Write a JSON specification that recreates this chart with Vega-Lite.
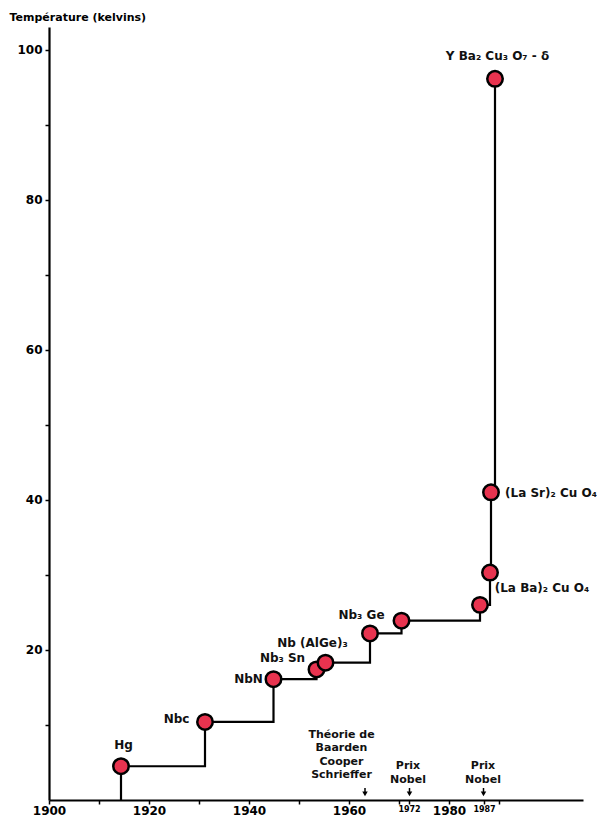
{
  "$schema": "https://vega.github.io/schema/vega-lite/v6.json",
  "width": 534,
  "height": 773,
  "autosize": {"type": "none"},
  "padding": {"left": 49, "top": 27, "right": 14, "bottom": 25},
  "background": "white",
  "config": {"view": {"stroke": null}, "font": "DejaVu Sans"},
  "datasets": {
    "records": [
      {"order": 0, "kind": "start", "year": 1914.4, "temp": 0},
      {"order": 1, "kind": "record", "year": 1914.4, "temp": 4.5},
      {"order": 2, "kind": "record", "year": 1931.2, "temp": 10.4},
      {"order": 3, "kind": "record", "year": 1944.9, "temp": 16.1},
      {"order": 4, "kind": "record", "year": 1953.5, "temp": 17.4},
      {"order": 5, "kind": "record", "year": 1955.3, "temp": 18.3},
      {"order": 6, "kind": "record", "year": 1964.2, "temp": 22.2},
      {"order": 7, "kind": "record", "year": 1970.5, "temp": 23.9},
      {"order": 8, "kind": "record", "year": 1986.2, "temp": 26.0},
      {"order": 9, "kind": "record", "year": 1988.2, "temp": 30.3},
      {"order": 10, "kind": "record", "year": 1988.4, "temp": 41.0},
      {"order": 11, "kind": "record", "year": 1989.2, "temp": 96.1}
    ],
    "labels": [
      {"text": "Hg", "year": 1914.9, "temp": 7.3},
      {"text": "Nbc", "year": 1925.5, "temp": 10.8},
      {"text": "NbN", "year": 1939.9, "temp": 16.1},
      {"text": "Nb₃ Sn", "year": 1946.7, "temp": 18.9},
      {"text": "Nb (AlGe)₃", "year": 1952.7, "temp": 20.9},
      {"text": "Nb₃ Ge", "year": 1962.5, "temp": 24.6},
      {"text": "Y Ba₂ Cu₃ O₇ - δ", "year": 1989.7, "temp": 99.2},
      {"text": "(La Sr)₂ Cu O₄", "year": 2000.4, "temp": 40.9},
      {"text": "(La Ba)₂ Cu O₄", "year": 1998.6, "temp": 28.2}
    ],
    "notes": [
      {"text": "Théorie de\nBaarden\nCooper\nSchrieffer", "year": 1958.5, "temp": 9.5},
      {"text": "Prix\nNobel", "year": 1971.8, "temp": 5.3},
      {"text": "Prix\nNobel", "year": 1986.8, "temp": 5.3}
    ],
    "arrows": [
      {"year": 1963.2, "top": 1.6, "tip": 0.8},
      {"year": 1972.1, "top": 1.6, "tip": 0.8},
      {"year": 1986.9, "top": 1.6, "tip": 0.8}
    ]
  },
  "layer": [
    {
      "data": {"name": "records"},
      "mark": {"type": "line", "interpolate": "step-after", "color": "black", "strokeWidth": 2.2},
      "encoding": {
        "x": {
          "field": "year", "type": "quantitative",
          "scale": {"domain": [1900, 2006.8], "nice": false, "zero": false},
          "axis": {
            "title": null,
            "values": [1900, 1910, 1920, 1930, 1940, 1950, 1960, 1970, 1972, 1980, 1987, 1990],
            "format": "d",
            "labelExpr": "datum.value % 20 == 0 || datum.value == 1972 || datum.value == 1987 ? datum.label : ''",
            "labelFontSize": {"condition": {"test": "datum.value == 1972 || datum.value == 1987", "value": 8}, "value": 12},
            "labelFontWeight": "bold",
            "labelColor": "black",
            "labelFont": "DejaVu Sans",
            "labelPadding": 1,
            "labelFlush": false,
            "labelOverlap": false,
            "domainColor": "black",
            "domainWidth": 2.2,
            "tickColor": "black",
            "tickWidth": 1.5,
            "tickSize": 4,
            "grid": false
          }
        },
        "y": {
          "field": "temp", "type": "quantitative",
          "scale": {"domain": [0, 103], "nice": false, "zero": true},
          "axis": {
            "title": "Température (kelvins)",
            "titleAngle": 0,
            "titleAlign": "left",
            "titleBaseline": "middle",
            "titleX": -40,
            "titleY": -10,
            "titleFont": "DejaVu Sans",
            "titleFontSize": 11,
            "titleFontWeight": "bold",
            "titleColor": "black",
            "values": [10, 20, 30, 40, 50, 60, 70, 80, 90, 100],
            "labelExpr": "datum.value % 20 == 0 ? datum.label : ''",
            "labelFontSize": 12,
            "labelFontWeight": "bold",
            "labelColor": "black",
            "labelPadding": 3,
            "domainColor": "black",
            "domainWidth": 2.2,
            "tickColor": "black",
            "tickWidth": 1.5,
            "tickSize": 4,
            "grid": false
          }
        },
        "order": {"field": "order"}
      }
    },
    {
      "data": {"name": "records"},
      "transform": [{"filter": "datum.kind == 'record'"}],
      "mark": {"type": "point", "shape": "circle", "filled": true, "fill": "#e8334f", "stroke": "black", "strokeWidth": 2.5, "size": 240, "opacity": 1},
      "encoding": {
        "x": {"field": "year", "type": "quantitative"},
        "y": {"field": "temp", "type": "quantitative"}
      }
    },
    {
      "data": {"name": "labels"},
      "mark": {"type": "text", "align": "center", "baseline": "middle", "fontSize": 12, "fontWeight": "bold", "color": "#111"},
      "encoding": {
        "x": {"field": "year", "type": "quantitative"},
        "y": {"field": "temp", "type": "quantitative"},
        "text": {"field": "text"}
      }
    },
    {
      "data": {"name": "notes"},
      "mark": {"type": "text", "align": "center", "baseline": "top", "fontSize": 11, "fontWeight": "bold", "lineBreak": "\n", "lineHeight": 13.5, "color": "#111"},
      "encoding": {
        "x": {"field": "year", "type": "quantitative"},
        "y": {"field": "temp", "type": "quantitative"},
        "text": {"field": "text"}
      }
    },
    {
      "data": {"name": "arrows"},
      "mark": {"type": "rule", "color": "black", "strokeWidth": 1.5},
      "encoding": {
        "x": {"field": "year", "type": "quantitative"},
        "y": {"field": "top", "type": "quantitative"},
        "y2": {"field": "tip"}
      }
    },
    {
      "data": {"name": "arrows"},
      "mark": {"type": "point", "shape": "triangle-down", "filled": true, "color": "black", "size": 30, "opacity": 1},
      "encoding": {
        "x": {"field": "year", "type": "quantitative"},
        "y": {"field": "tip", "type": "quantitative"}
      }
    }
  ]
}
